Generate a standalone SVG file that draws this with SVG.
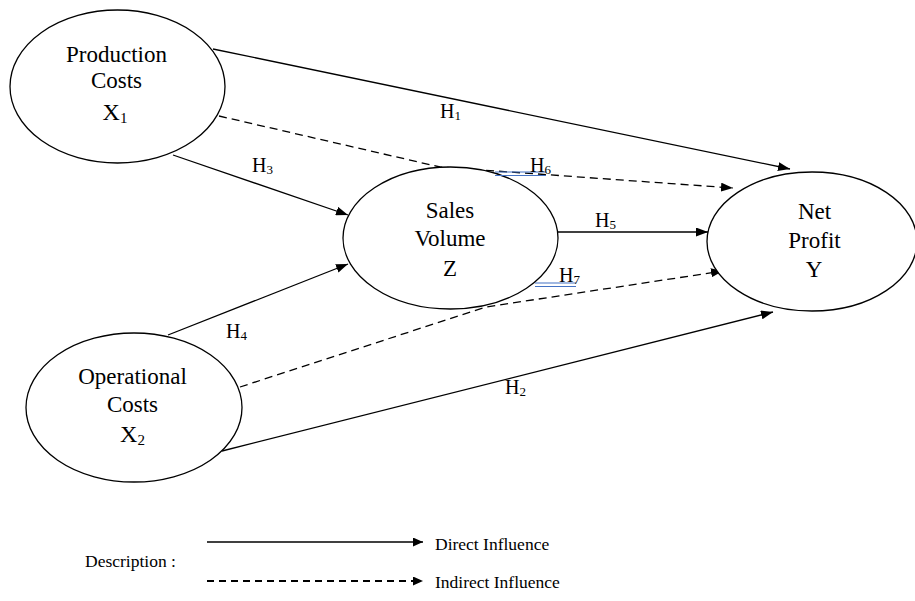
<svg xmlns="http://www.w3.org/2000/svg" width="915" height="601" viewBox="0 0 915 601" font-family="'Liberation Serif', 'Times New Roman', Times, 'DejaVu Serif', serif">
<defs>
<marker id="arr" markerUnits="userSpaceOnUse" markerWidth="13" markerHeight="9" refX="12" refY="4.5" orient="auto"><path d="M0,0 L12,4.5 L0,9 z" fill="#000"/></marker>
<marker id="arrs" markerUnits="userSpaceOnUse" markerWidth="11" markerHeight="9" refX="10" refY="4.5" orient="auto"><path d="M0,0 L10,4.5 L0,9 z" fill="#000"/></marker>
</defs>
<style>
text{fill:#000}
.node{font-size:23px;text-anchor:middle}
.var{font-size:24px;text-anchor:middle}
.sub{font-size:15px}
.h{font-size:20px}
.hs{font-size:13px}
.leg{font-size:17.5px}
ellipse{fill:#fff;stroke:#000;stroke-width:1.3}
.solid{fill:none;stroke:#000;stroke-width:1.3}
.dash{fill:none;stroke:#000;stroke-width:1.3;stroke-dasharray:8 5}
.blue{stroke:#4472C4;stroke-width:1.2}
</style>
<rect width="915" height="601" fill="#fff"/>
<g id="connectors">
<line class="solid" x1="213" y1="49" x2="790" y2="169" marker-end="url(#arr)"/>
<polyline class="dash" points="219,116 440,167 733,188" marker-end="url(#arr)"/>
<line class="solid" x1="173" y1="155" x2="348" y2="215" marker-end="url(#arr)"/>
<line class="solid" x1="168" y1="335" x2="348" y2="264" marker-end="url(#arr)"/>
<line class="solid" x1="558" y1="232" x2="708" y2="232" marker-end="url(#arr)"/>
<polyline class="dash" points="240,387 486,307 723,271" marker-end="url(#arr)"/>
<line class="solid" x1="222" y1="451" x2="773" y2="312" marker-end="url(#arr)"/>
</g>
<g id="node-x1">
<ellipse cx="117.5" cy="86.5" rx="107.5" ry="76.5"/>
<text class="node" x="116.5" y="62">Production</text>
<text class="node" x="116.5" y="88">Costs</text>
<text class="var" x="115" y="120">X<tspan class="sub" dy="3">1</tspan></text>
</g>
<g id="node-z">
<ellipse cx="450.5" cy="238" rx="107.5" ry="71"/>
<text class="node" x="450" y="218">Sales</text>
<text class="node" x="450" y="246">Volume</text>
<text class="node" x="450" y="276">Z</text>
</g>
<g id="node-y">
<ellipse cx="812" cy="241.5" rx="105" ry="69.5"/>
<text class="node" x="814.5" y="219">Net</text>
<text class="node" x="814.5" y="248">Profit</text>
<text class="node" x="814" y="277">Y</text>
</g>
<g id="node-x2">
<ellipse cx="134" cy="407.5" rx="108" ry="74.5"/>
<text class="node" x="132.5" y="384">Operational</text>
<text class="node" x="132.5" y="412">Costs</text>
<text class="var" x="132.5" y="442">X<tspan class="sub" dy="3">2</tspan></text>
</g>
<g id="labels">
<text class="h" x="440" y="118">H<tspan class="hs" dy="2">1</tspan></text>
<text class="h" x="252" y="172">H<tspan class="hs" dy="2">3</tspan></text>
<line class="blue" x1="495" y1="172" x2="546" y2="172"/>
<line class="blue" x1="495" y1="175.5" x2="546" y2="175.5"/>
<text class="h" x="530" y="172">H<tspan class="hs" dy="2">6</tspan></text>
<text class="h" x="595" y="227">H<tspan class="hs" dy="2">5</tspan></text>
<line class="blue" x1="535" y1="283" x2="576" y2="283"/>
<line class="blue" x1="535" y1="286.5" x2="576" y2="286.5"/>
<text class="h" x="559" y="282">H<tspan class="hs" dy="2">7</tspan></text>
<text class="h" x="226" y="338">H<tspan class="hs" dy="2">4</tspan></text>
<text class="h" x="505" y="394">H<tspan class="hs" dy="2">2</tspan></text>
</g>
<g id="legend">
<text class="leg" x="85" y="567">Description :</text>
<line class="solid" x1="207" y1="542" x2="423" y2="542" marker-end="url(#arrs)"/>
<text class="leg" x="435" y="550">Direct Influence</text>
<line x1="207" y1="581" x2="423" y2="581" stroke="#000" stroke-width="2" stroke-dasharray="7 5" marker-end="url(#arrs)"/>
<text class="leg" x="435" y="588">Indirect Influence</text>
</g>
</svg>
